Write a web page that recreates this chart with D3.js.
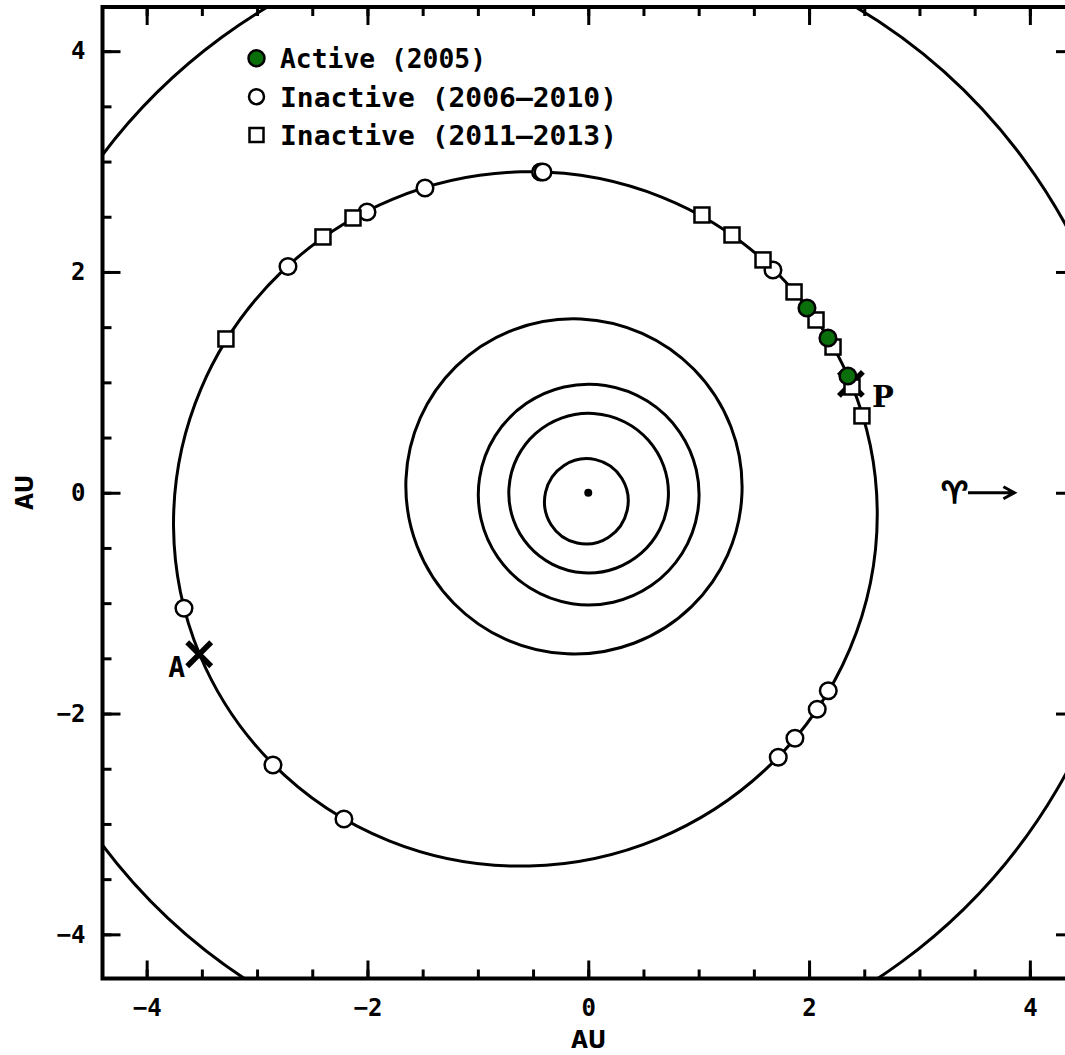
<!DOCTYPE html>
<html>
<head>
<meta charset="utf-8">
<script src="https://cdnjs.cloudflare.com/ajax/libs/d3/7.8.5/d3.min.js"></script>
<style>
  body { margin: 0; background: #fff; }
  svg { display: block; }
</style>
</head>
<body>
<div id="graph"></div>
<script>
// orbits: semi-major axis (AU), eccentricity, longitude of perihelion (deg)
const orbitNames = ['Mercury', 'Venus', 'Earth', 'Mars', 'Comet', 'Jupiter'];
const orbitA = [0.387, 0.723, 1.0, 1.524, 3.196, 5.203];
const orbitE = [0.206, 0.007, 0.017, 0.093, 0.193, 0.0485];
const orbitPeri = [77.5, 131.5, 102.9, 336.0, 22.6, 14.7];

// comet positions (AU)
const activeX = [1.981, 2.171, 2.352];
const activeY = [1.674, 1.402, 1.058];

const inactive1X = [-0.432, -0.41, -1.479, -2.004, -2.72, 1.673, -3.662, -2.856, -2.213, 1.721, 1.872, 2.074, 2.174];
const inactive1Y = [2.906, 2.906, 2.761, 2.543, 2.05, 2.018, -1.046, -2.466, -2.955, -2.396, -2.224, -1.961, -1.793];

const inactive2X = [-3.282, -2.403, -2.131, 1.03, 1.302, 1.583, 1.864, 2.063, 2.217, 2.389, 2.479];
const inactive2Y = [1.393, 2.317, 2.489, 2.516, 2.335, 2.109, 1.819, 1.565, 1.32, 0.958, 0.696];

// perihelion / aphelion
const apsisLabels = ['P', 'A'];
const apsisX = [2.379, -3.524];
const apsisY = [0.986, -1.463];

const legendLabels = ['Active (2005)', 'Inactive (2006\u20132010)', 'Inactive (2011\u20132013)'];
const majorTicks = [-4, -2, 0, 2, 4];
const minorTicks = [-4, -3.5, -3, -2.5, -2, -1.5, -1, -0.5, 0, 0.5, 1, 1.5, 2, 2.5, 3, 3.5, 4];

const W = 1065, H = 1055;
const green = '#0a6e0a';
const fontMono = '"DejaVu Sans Mono", monospace';

let x = d3.scaleLinear().domain([-4.4, 4.4]).range([102.5, 102.5 + 8.8 * 110.4]);
let y = d3.scaleLinear().domain([-4.4, 4.4]).range([978.5, 7]);
const pxPerAU = x(1) - x(0);

let svg = d3.select('#graph').append('svg').attr('width', W).attr('height', H);

svg.append('clipPath').attr('id', 'plotclip')
  .append('rect')
  .attr('x', x(-4.4)).attr('y', y(4.4))
  .attr('width', x(4.4) - x(-4.4)).attr('height', y(-4.4) - y(4.4));

let vis = svg.append('g').attr('clip-path', 'url(#plotclip)');

// orbit ellipses
let orbits = orbitNames.map((n, i) => ({ name: n, a: orbitA[i], e: orbitE[i], w: orbitPeri[i] }));
vis.selectAll('ellipse.orbit')
  .data(orbits)
  .enter()
  .append('ellipse')
  .attr('class', 'orbit')
  .attr('transform', (d) => {
    let r = (d.w * Math.PI) / 180;
    let cx = x(-d.a * d.e * Math.cos(r));
    let cy = y(-d.a * d.e * Math.sin(r));
    return 'translate(' + cx + ',' + cy + ') rotate(' + -d.w + ')';
  })
  .attr('rx', (d) => d.a * pxPerAU)
  .attr('ry', (d) => d.a * Math.sqrt(1 - d.e * d.e) * pxPerAU)
  .attr('fill', 'none')
  .attr('stroke', '#000')
  .attr('stroke-width', 3);

// sun
vis.append('circle').attr('cx', x(0)).attr('cy', y(0)).attr('r', 4).attr('fill', '#000');

// apsis crosses
apsisX.forEach((ax, i) => {
  let cx = x(ax), cy = y(apsisY[i]);
  vis.append('path')
    .attr('d', 'M' + (cx - 12) + ',' + (cy - 12) + 'L' + (cx + 12) + ',' + (cy + 12) +
      'M' + (cx - 12) + ',' + (cy + 12) + 'L' + (cx + 12) + ',' + (cy - 12))
    .attr('stroke', '#000')
    .attr('stroke-width', 5.5)
    .attr('fill', 'none');
});

// inactive 2006-2010 circles
vis.selectAll('circle.in1')
  .data(d3.zip(inactive1X, inactive1Y))
  .enter()
  .append('circle')
  .attr('cx', (d) => x(d[0]))
  .attr('cy', (d) => y(d[1]))
  .attr('r', 8.3)
  .attr('fill', '#fff')
  .attr('stroke', '#000')
  .attr('stroke-width', 2.5);

// inactive 2011-2013 squares
vis.selectAll('rect.in2')
  .data(d3.zip(inactive2X, inactive2Y))
  .enter()
  .append('rect')
  .attr('x', (d) => x(d[0]) - 7.5)
  .attr('y', (d) => y(d[1]) - 7.5)
  .attr('width', 15)
  .attr('height', 15)
  .attr('fill', '#fff')
  .attr('stroke', '#000')
  .attr('stroke-width', 2.5);

// active 2005
vis.selectAll('circle.act')
  .data(d3.zip(activeX, activeY))
  .enter()
  .append('circle')
  .attr('cx', (d) => x(d[0]))
  .attr('cy', (d) => y(d[1]))
  .attr('r', 8.3)
  .attr('fill', green)
  .attr('stroke', '#000')
  .attr('stroke-width', 2.5);

// apsis labels
svg.append('text')
  .attr('x', x(apsisX[0]) + 21).attr('y', y(apsisY[0]) + 23)
  .attr('font-family', '"DejaVu Serif", serif')
  .attr('font-weight', 'bold')
  .attr('font-size', 29)
  .text(apsisLabels[0]);
svg.append('text')
  .attr('x', x(apsisX[1]) - 14).attr('y', y(apsisY[1]) + 23)
  .attr('text-anchor', 'end')
  .attr('font-family', fontMono)
  .attr('font-weight', 'bold')
  .attr('font-size', 28)
  .text(apsisLabels[1]);

// vernal equinox arrow
let ax0 = x(3.44), ax1 = x(3.86), ay = y(0);
svg.append('path')
  .attr('d', 'M' + ax0 + ',' + ay + 'L' + ax1 + ',' + ay +
    'M' + (ax1 - 11) + ',' + (ay - 6) + 'L' + ax1 + ',' + ay + 'L' + (ax1 - 11) + ',' + (ay + 6))
  .attr('stroke', '#000')
  .attr('stroke-width', 3)
  .attr('fill', 'none');
svg.append('text')
  .attr('x', x(3.32)).attr('y', ay + 10)
  .attr('text-anchor', 'middle')
  .attr('font-family', '"DejaVu Sans", sans-serif')
  .attr('font-weight', 'bold')
  .attr('font-size', 30)
  .attr('stroke', '#000')
  .attr('stroke-width', 1.6)
  .text('\u2648\uFE0E');

// legend
let legend = svg.append('g');
let ly = [58.3, 96.7, 135];
legend.append('circle').attr('cx', 256.5).attr('cy', ly[0]).attr('r', 8)
  .attr('fill', green).attr('stroke', '#000').attr('stroke-width', 2.5);
legend.append('circle').attr('cx', 256.5).attr('cy', ly[1]).attr('r', 7.5)
  .attr('fill', '#fff').attr('stroke', '#000').attr('stroke-width', 2.5);
legend.append('rect').attr('x', 249.5).attr('y', ly[2] - 7).attr('width', 14).attr('height', 14)
  .attr('fill', '#fff').attr('stroke', '#000').attr('stroke-width', 2.5);
legend.selectAll('text')
  .data(legendLabels)
  .enter()
  .append('text')
  .attr('x', 280)
  .attr('y', (d, i) => ly[i] + 10)
  .attr('font-family', fontMono)
  .attr('font-weight', 'bold')
  .attr('font-size', 27)
  .attr('textLength', (d, i) => (i === 0 ? 206 : 337))
  .attr('lengthAdjust', 'spacingAndGlyphs')
  .text((d) => d);

// axes
function styleAxis(g) {
  g.select('.domain').remove();
  g.selectAll('.tick line').attr('stroke', '#000').attr('stroke-width', 3);
  g.selectAll('.tick text')
    .attr('fill', '#000')
    .attr('font-family', fontMono)
    .attr('font-weight', 'bold')
    .attr('font-size', 24);
}

svg.append('g').attr('transform', 'translate(0,' + y(-4.4) + ')')
  .call(d3.axisBottom(x).tickValues(minorTicks).tickSize(-9).tickFormat(''))
  .call(styleAxis);
svg.append('g').attr('transform', 'translate(0,' + y(-4.4) + ')')
  .call(d3.axisBottom(x).tickValues(majorTicks).tickSize(-18).tickPadding(20))
  .call(styleAxis);

svg.append('g').attr('transform', 'translate(0,' + y(4.4) + ')')
  .call(d3.axisTop(x).tickValues(minorTicks).tickSize(-9).tickFormat(''))
  .call(styleAxis);
svg.append('g').attr('transform', 'translate(0,' + y(4.4) + ')')
  .call(d3.axisTop(x).tickValues(majorTicks).tickSize(-18).tickFormat(''))
  .call(styleAxis);

svg.append('g').attr('transform', 'translate(' + x(-4.4) + ',0)')
  .call(d3.axisLeft(y).tickValues(minorTicks).tickSize(-9).tickFormat(''))
  .call(styleAxis);
svg.append('g').attr('transform', 'translate(' + x(-4.4) + ',0)')
  .call(d3.axisLeft(y).tickValues(majorTicks).tickSize(-18).tickPadding(17))
  .call(styleAxis);

svg.append('g').attr('transform', 'translate(' + x(4.4) + ',0)')
  .call(d3.axisRight(y).tickValues(minorTicks).tickSize(-9).tickFormat(''))
  .call(styleAxis);
svg.append('g').attr('transform', 'translate(' + x(4.4) + ',0)')
  .call(d3.axisRight(y).tickValues(majorTicks).tickSize(-18).tickFormat(''))
  .call(styleAxis);

// frame
svg.append('rect')
  .attr('x', x(-4.4)).attr('y', y(4.4))
  .attr('width', x(4.4) - x(-4.4)).attr('height', y(-4.4) - y(4.4))
  .attr('fill', 'none')
  .attr('stroke', '#000')
  .attr('stroke-width', 4);

// axis titles
svg.append('text')
  .attr('x', x(0)).attr('y', 1048)
  .attr('text-anchor', 'middle')
  .attr('font-family', fontMono)
  .attr('font-weight', 'bold')
  .attr('font-size', 24)
  .attr('textLength', 35)
  .attr('lengthAdjust', 'spacingAndGlyphs')
  .text('AU');
svg.append('text')
  .attr('transform', 'translate(33,' + y(0) + ') rotate(-90)')
  .attr('text-anchor', 'middle')
  .attr('font-family', fontMono)
  .attr('font-weight', 'bold')
  .attr('font-size', 24)
  .attr('textLength', 35)
  .attr('lengthAdjust', 'spacingAndGlyphs')
  .text('AU');
</script>
</body>
</html>
